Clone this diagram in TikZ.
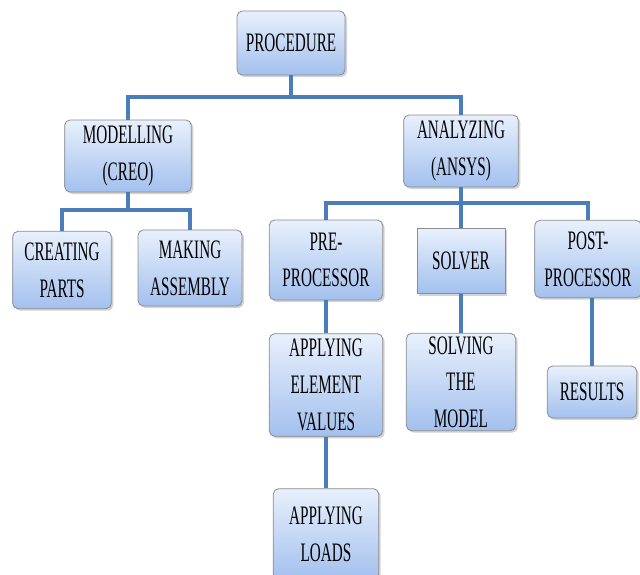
\documentclass[tikz,border=0pt]{standalone}
\usepackage{fontspec}
\setmainfont[FakeStretch=0.57]{Liberation Serif}
\usepackage{tikz}
\usepackage{xcolor}
\usetikzlibrary{shadows}

\definecolor{boxtop}{RGB}{232,240,252}
\definecolor{boxbot}{RGB}{163,192,238}
\definecolor{boxline}{RGB}{140,140,140}
\definecolor{linkblue}{RGB}{74,126,187}

\begin{document}
\begin{tikzpicture}[x=0.75pt,y=0.75pt,yscale=-1,xscale=1,
  box/.style={draw=boxline,line width=0.6pt,rounded corners=4pt,top color=boxtop,bottom color=boxbot,
    drop shadow={shadow xshift=1.5pt,shadow yshift=-1.5pt,opacity=0.35},
    align=center,inner sep=2pt,font=\fontsize{20}{27.5}\selectfont},
  link/.style={draw=linkblue,line width=2.3pt}]
\clip (0,0) rectangle (640,575);
\useasboundingbox (0,0) rectangle (640,575);

%Shape: Rectangle [id:proc]
\node (proc) at (291,43) [box,minimum width=81pt,minimum height=48pt] {PROCEDURE};
%Shape: Rectangle [id:model]
\node (model) at (128,156) [box,minimum width=95pt,minimum height=54pt] {MODELLING\\(CREO)};
%Shape: Rectangle [id:analyze]
\node (analyze) at (461,151) [box,minimum width=86pt,minimum height=54pt] {ANALYZING\\(ANSYS)};
%Shape: Rectangle [id:create]
\node (create) at (62,270) [box,minimum width=74pt,minimum height=58pt] {CREATING\\PARTS};
%Shape: Rectangle [id:assembly]
\node (assembly) at (190,268) [box,minimum width=78pt,minimum height=57pt] {MAKING\\ASSEMBLY};
%Shape: Rectangle [id:pre]
\node (pre) at (326,260) [box,minimum width=85pt,minimum height=60pt] {PRE-\\PROCESSOR};
%Shape: Rectangle [id:solver]
\node (solver) at (461,261) [box,sharp corners,minimum width=66pt,minimum height=49pt] {SOLVER};
%Shape: Rectangle [id:post]
\node (post) at (588,259) [box,minimum width=80pt,minimum height=58pt] {POST-\\PROCESSOR};
%Shape: Rectangle [id:elem]
\node (elem) at (326,385) [box,minimum width=85pt,minimum height=77pt] {APPLYING\\ELEMENT\\VALUES};
%Shape: Rectangle [id:solve]
\node (solve) at (461,382) [box,minimum width=82pt,minimum height=73pt] {SOLVING\\THE\\MODEL};
%Shape: Rectangle [id:results]
\node (results) at (592,392) [box,minimum width=67pt,minimum height=39pt] {RESULTS};
%Shape: Rectangle [id:loads]
\node (loads) at (326,534) [box,minimum width=79pt,minimum height=68pt] {APPLYING\\LOADS};

%Straight Lines [id:top]
\coordinate (jtop) at (291,97);
\draw [link] (proc.south) -- (jtop);
\draw [link] (model.north) |- (jtop) -| (analyze.north);
%Straight Lines [id:model]
\coordinate (jmodel) at (128,210);
\draw [link] (model.south) -- (jmodel);
\draw [link] (create.north) |- (jmodel) -| (assembly.north);
%Straight Lines [id:analyze]
\coordinate (jana) at (461,203);
\draw [link] (analyze.south) -- (solver.north);
\draw [link] (pre.north) |- (jana) -| (post.north);
%Straight Lines [id:lower]
\draw [link] (pre.south) -- (elem.north);
\draw [link] (elem.south) -- (loads.north);
\draw [link] (solver.south) -- (solve.north);
\draw [link] (results.north |- post.south) -- (results.north);
\end{tikzpicture}
\end{document}
